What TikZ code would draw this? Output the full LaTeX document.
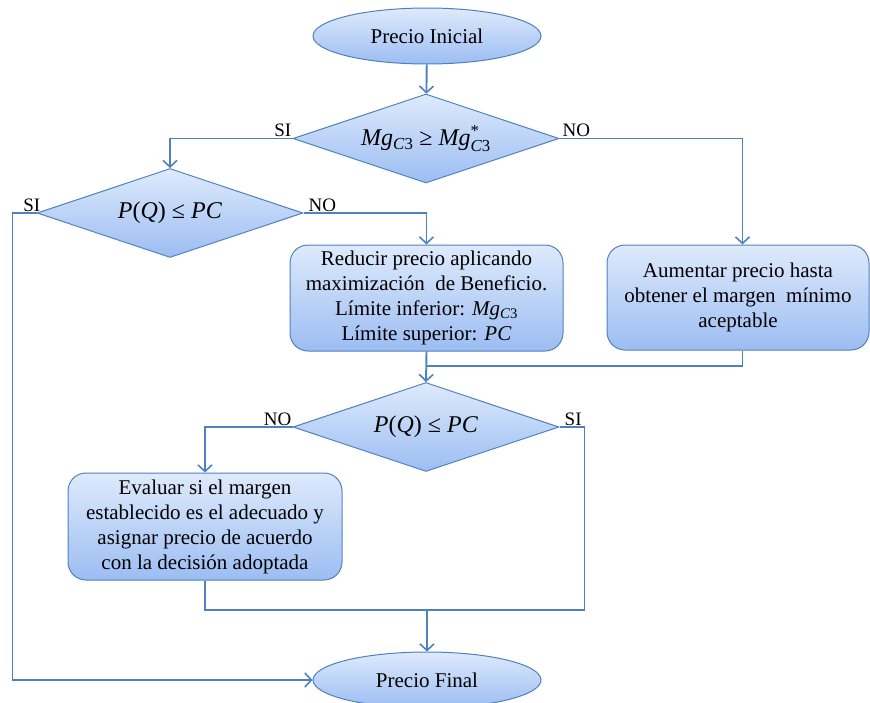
\documentclass[tikz,border=0pt]{standalone}
\usepackage{fontspec}
\usepackage{amsmath}
\setmainfont{Liberation Serif}
\usetikzlibrary{shapes.geometric,arrows.meta,calc}
\definecolor{edge}{HTML}{4F81BD}
\definecolor{filltop}{HTML}{DEEAFC}
\definecolor{fillbot}{HTML}{9CBDF2}
% italic subscript "C3" with an upright digit
\newcommand{\cthree}{\ensuremath{_{\text{\textit{C}3}}}}
\newcommand{\cthreestar}{\ensuremath{^{\text{*}}_{\text{\textit{C}3}}}}
\begin{document}
\begin{tikzpicture}[x=1pt,y=-1pt,
  shapebase/.style={draw=edge, line width=1pt, top color=filltop, bottom color=fillbot,
    inner sep=0pt, font=\fontsize{21}{25}\selectfont},
  terminal/.style={shapebase, ellipse, minimum width=228pt, minimum height=56pt},
  decision/.style={shapebase, diamond, shape aspect=3.2, minimum width=266pt,
    minimum height=89pt, font=\fontsize{24}{28}\selectfont},
  process/.style={shapebase, rectangle, rounded corners=18pt, align=center},
  flow/.style={draw=edge, line width=1.9pt},
  arr/.style={flow, -{Straight Barb[length=6.5pt,width=14pt,line width=1.6pt]}},
  tag/.style={font=\fontsize{19}{22}\selectfont, inner sep=1pt}
]
\useasboundingbox (0,0) rectangle (870,702);

% terminals
\node[terminal] (ini) at (427,36) {Precio Inicial};
\node[terminal] (fin) at (427,680) {Precio Final};

% decisions
\node[decision] (d1) at (426,138.5) {\textit{Mg}\cthree{} ≥ \textit{Mg}\cthreestar};
\node[decision] (d2) at (170,213) {\textit{P}(\textit{Q}) ≤ \textit{PC}};
\node[decision] (d3) at (426,427) {\textit{P}(\textit{Q}) ≤ \textit{PC}};

% processes
\node[process, minimum width=273pt, minimum height=106pt] (b1) at (426.5,298)
  {Reducir precio aplicando\\ maximización\ \ de Beneficio.\\ Límite inferior: \textit{Mg}\cthree\\ Límite superior: \textit{PC}};
\node[process, minimum width=262pt, minimum height=105pt] (b2) at (738,297.5)
  {Aumentar precio hasta\\ obtener el margen\ \ mínimo\\ aceptable};
\node[process, minimum width=274pt, minimum height=107pt] (b3) at (205,526.5)
  {Evaluar si el margen\\ establecido es el adecuado y\\ asignar precio de acuerdo\\ con la decisión adoptada};

% junction points
\coordinate (m1) at (427,366);
\coordinate (m2) at (427,610);

% connectors
\draw[arr] (ini) -- (d1);
\draw[arr] (d1.west) -| (d2.north);
\draw[arr] (d1.east) -| ($(b2.north)+(4.5,0)$);
\draw[arr] (d2.east) -| (b1.north);
\draw[arr] (d2.west) -- ++(-24,0) |- (fin.west);
\draw[flow] ($(b2.south)+(4.5,0)$) |- (m1);
\draw[arr] (b1.south) -- (d3.north);
\draw[arr] (d3.west) -| (b3.north);
\draw[flow] (d3.east) -- ++(25,0) |- (m2);
\draw[flow] (b3.south) |- (m2);
\draw[arr] (m2) -- (fin.north);

% branch labels
\node[tag, anchor=south east] at ($(d1.west)+(0,-1)$) {SI};
\node[tag, anchor=south west] at ($(d1.east)+(2,-1)$) {NO};
\node[tag, anchor=south east] at ($(d2.west)+(5,0)$) {SI};
\node[tag, anchor=south west] at ($(d2.east)+(4,0)$) {NO};
\node[tag, anchor=south east] at (d3.west) {NO};
\node[tag, anchor=south west] at ($(d3.east)+(4,0)$) {SI};
\end{tikzpicture}
\end{document}
